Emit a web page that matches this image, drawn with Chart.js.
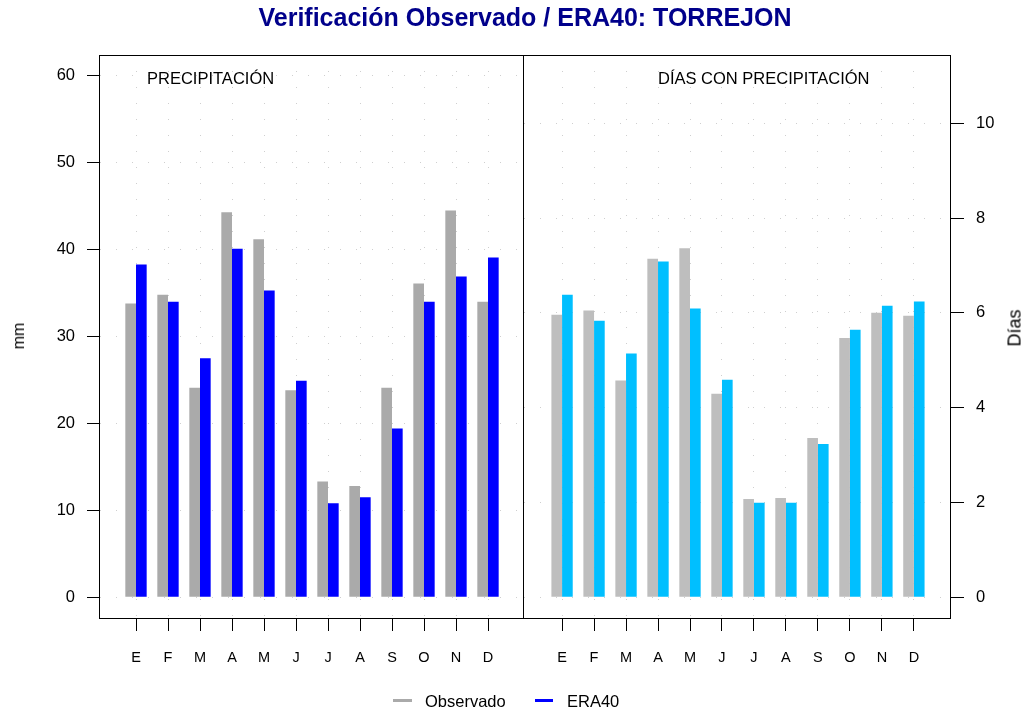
<!DOCTYPE html>
<html>
<head>
<meta charset="utf-8">
<title>Verificación Observado / ERA40: TORREJON</title>
<script src="https://cdn.jsdelivr.net/npm/chart.js@4.4.1/dist/chart.umd.min.js"></script>
<style>
  body { margin: 0; background: #fff; font-family: "Liberation Sans", Arial, sans-serif; }
  #wrap { position: relative; width: 1024px; height: 713px; overflow: hidden; }
  canvas { position: absolute; top: 0; }
  .txt { position: absolute; white-space: nowrap; color: #000; line-height: 1; }
  .linea { position: absolute; height: 3px; }
</style>
</head>
<body>
<div id="wrap">
  <canvas id="precChart" width="530" height="713" style="left:0"></canvas>
  <canvas id="diasChart" width="506" height="713" style="left:518px"></canvas>

  <div class="txt" id="titulo" style="left:525px;top:5px;transform:translateX(-50%);font-size:25px;font-weight:bold;color:#00008b">Verificación Observado / ERA40: TORREJON</div>
  <div class="txt" style="left:147px;top:70px;font-size:16.5px">PRECIPITACIÓN</div>
  <div class="txt" style="left:658px;top:70px;font-size:16.5px">DÍAS CON PRECIPITACIÓN</div>
  <div class="txt" style="left:19px;top:336px;font-size:16px;transform:translate(-100%,-50%) rotate(-90deg) translate(50%,0);transform-origin:right center">mm</div>
  <div class="txt" id="dias" style="font-size:18px">Días</div>

  <div class="linea" style="left:393px;top:699px;width:19px;background:#aaaaaa"></div>
  <div class="txt" style="left:425px;top:693px;font-size:16.5px">Observado</div>
  <div class="linea" style="left:535px;top:699px;width:18px;background:#0000ff"></div>
  <div class="txt" style="left:567px;top:693px;font-size:16.5px">ERA40</div>
</div>

<script>
// Datos
const meses = ['E', 'F', 'M', 'A', 'M', 'J', 'J', 'A', 'S', 'O', 'N', 'D'];
const precObservado = [33.8, 34.8, 24.1, 44.3, 41.2, 23.8, 13.3, 12.8, 24.1, 36.1, 44.5, 34.0];
const precEra40 = [38.3, 34.0, 27.5, 40.1, 35.3, 24.9, 10.8, 11.5, 19.4, 34.0, 36.9, 39.1];
const diasObservado = [5.96, 6.05, 4.57, 7.14, 7.36, 4.29, 2.07, 2.09, 3.36, 5.47, 6.00, 5.94];
const diasEra40 = [6.38, 5.83, 5.14, 7.08, 6.09, 4.59, 1.99, 1.99, 3.23, 5.64, 6.15, 6.24];
const ticksPrec = [0, 10, 20, 30, 40, 50, 60];
const ticksDias = [0, 2, 4, 6, 8, 10];

const FUENTE = '"Liberation Sans", Arial, sans-serif';

// Etiqueta "Días" girada junto al eje derecho
const dias = document.getElementById('dias');
dias.style.left = (1023 - dias.offsetWidth / 2 - 9) + 'px';
dias.style.top = (328 - dias.offsetHeight / 2) + 'px';
dias.style.transform = 'rotate(-90deg)';

// Marco negro alrededor del área del gráfico
const marco = {
  id: 'marco',
  afterDatasetsDraw(chart) {
    const { ctx, chartArea: a } = chart;
    ctx.save();
    ctx.strokeStyle = '#000';
    ctx.lineWidth = 1;
    ctx.strokeRect(Math.round(a.left) - 0.5, Math.round(a.top) + 0.5,
      Math.round(a.right - a.left), Math.round(a.bottom - a.top));
    ctx.restore();
  }
};

function crearPanel(id, obs, era, colores, cfg) {
  const puntos = serie => serie.map((v, i) => ({ x: i, y: v }));
  return new Chart(document.getElementById(id), {
    type: 'bar',
    data: {
      datasets: [
        { label: 'Observado', data: puntos(obs), backgroundColor: colores[0] },
        { label: 'ERA40', data: puntos(era), backgroundColor: colores[1] }
      ]
    },
    options: {
      responsive: false,
      animation: false,
      layout: { padding: cfg.padding },
      datasets: { bar: { categoryPercentage: 0.667, barPercentage: 1.0, borderWidth: 0 } },
      plugins: { legend: { display: false }, tooltip: { enabled: false } },
      scales: {
        x: {
          type: 'linear',
          offset: false,
          min: cfg.xMin,
          max: cfg.xMax,
          afterBuildTicks: s => { s.ticks = meses.map((m, i) => ({ value: i })); },
          afterFit: s => { s.height = 95; },
          grid: { offset: false, color: '#cfcfcf', tickColor: '#000', tickLength: 13, tickBorderDash: [] },
          border: { display: false, dash: [1, 15] },
          ticks: {
            autoSkip: false, maxRotation: 0, padding: 18, color: '#000',
            font: { family: FUENTE, size: 14.5 },
            callback: v => meses[v]
          }
        },
        y: {
          type: 'linear',
          position: cfg.posicion,
          min: cfg.yMin,
          max: cfg.yMax,
          afterBuildTicks: s => { s.ticks = cfg.yTicks.map(v => ({ value: v })); },
          afterFit: s => { s.width = cfg.anchoEje; },
          grid: { color: '#cfcfcf', tickColor: '#000', tickLength: 13, tickBorderDash: [] },
          border: { display: false, dash: [1, 15] },
          ticks: { padding: 12, color: '#000', font: { family: FUENTE, size: 16.5 } }
        }
      }
    },
    plugins: [marco]
  });
}

crearPanel('precChart', precObservado, precEra40, ['#aaaaaa', '#0000ff'], {
  padding: { top: 55, right: 6, bottom: 0, left: 0 },
  posicion: 'left', anchoEje: 100,
  yMin: -2.4, yMax: 62.4, yTicks: ticksPrec,
  xMin: -1.125, xMax: 12.125
});

crearPanel('diasChart', diasObservado, diasEra40, ['#bebebe', '#00bfff'], {
  padding: { top: 55, right: 0, bottom: 0, left: 6 },
  posicion: 'right', anchoEje: 73,
  yMin: -0.44, yMax: 11.44, yTicks: ticksDias,
  xMin: -1.19, xMax: 12.16
});
</script>
</body>
</html>
